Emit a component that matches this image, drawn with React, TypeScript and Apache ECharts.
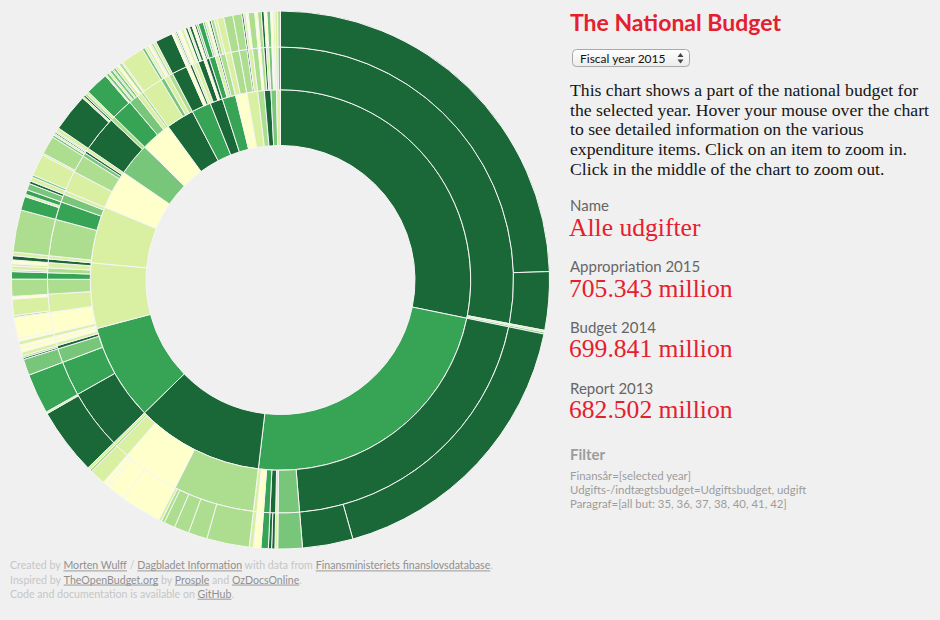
import React, { useEffect, useRef } from "react";
import * as echarts from "echarts";

// YlGn colour steps used by the rings
const PALETTE = ["#ffffcc", "#d9f0a3", "#addd8e", "#78c679", "#36a355", "#1a6837"];

// Level 1: budget paragraphs (inner ring), colour index per paragraph
const groupNames = [
  "§ 17 Beskæftigelsesministeriet", "§ 7 Finansministeriet", "§ 16 Sundhedsministeriet",
  "§ 15 Social- og Integrationsministeriet", "§ 19 Uddannelsesministeriet", "§ 20 Undervisningsministeriet",
  "§ 12 Forsvarsministeriet", "§ 28 Transportministeriet", "§ 9 Skatteministeriet",
  "§ 14 By, Bolig og Landdistrikter", "§ 11 Justitsministeriet", "§ 21 Kulturministeriet",
  "§ 6 Udenrigsministeriet", "§ 24 Fødevareministeriet", "§ 29 Klima og Energi",
  "§ 8 Erhvervs- og Vækstministeriet", "§ 23 Miljøministeriet", "§ 22 Kirkeministeriet",
  "§ 5 Statsministeriet",
];
const groupColor = [5, 4, 5, 4, 1, 1, 0, 3, 0, 5, 4, 5, 4, 0, 1, 2, 5, 3, 1];
// Level 2: number of main areas in each paragraph
const sectionsPerGroup = [3, 7, 5, 6, 9, 5, 5, 2, 4, 4, 4, 4, 4, 2, 3, 2, 3, 3, 2];
// Level 2 colour index per main area
const sectionColor = [
  5, 1, 3,
  5, 3, 1, 5, 4, 0, 1,
  2, 0, 1, 2, 1,
  5, 4, 3, 5, 1, 0,
  0, 1, 0, 1, 2, 4, 2, 1, 5,
  1, 2, 4, 3, 1,
  1, 2, 3, 5, 1,
  5, 2,
  4, 3, 1, 2,
  1, 3, 1, 2,
  5, 0, 5, 1,
  1, 5, 0, 5,
  4, 1, 5, 2,
  1, 2,
  2, 5, 1,
  2, 0,
  2, 5, 1,
  3, 0, 1,
  1, 3,
];
// Level 3: activity values per main area (share of the total, in degrees of arc)
const leafValues: number[][] = [
  [88.2, 12.6], [0.4], [0.4],
  [62.8, 10.9], [5.3], [0.6], [0.7, 0.7], [1.6], [1.6], [0.9],
  [9.2, 4.1, 3.2, 2.4, 0.7, 0.6], [8.8, 4.0, 0.7, 0.8], [3.4], [0.5], [0.6],
  [14.5, 0.4], [8.7], [3.5], [0.4, 0.4], [0.8], [0.8],
  [0.8], [0.8], [0.6, 4.6], [0.4, 3.5, 0.6], [3.7], [1.6], [0.4, 0.8], [0.5, 0.8], [0.9],
  [0.8], [9.1], [3.0, 0.5, 1.0], [1.4, 0.6], [0.9],
  [0.5, 4.7], [0.4, 4.0], [0.5, 0.4], [0.3, 0.3], [0.8],
  [8.2, 0.4, 0.4], [0.5, 0.5],
  [5.0, 0.3], [0.6, 0.4, 0.6, 0.3, 0.5], [0.6, 0.5], [0.6],
  [0.3, 5.0], [0.6, 0.4], [0.5, 0.4, 0.3], [0.5, 0.6],
  [3.8], [0.5, 0.4], [0.3, 0.3], [0.6],
  [0.6, 0.4], [0.5, 0.4, 0.6], [0.6], [0.4, 0.4],
  [1.1, 0.4], [0.5, 0.4], [0.4], [0.7, 0.6],
  [1.5], [2.0],
  [1.9], [0.4], [0.5, 0.5],
  [1.4], [0.6],
  [0.8], [0.6], [0.6],
  [0.8], [0.5], [0.4],
  [0.6], [0.6],
];
// Level 3 colour index per activity
const leafColors: number[][] = [
  [5, 5], [1], [3],
  [5, 5], [3], [1], [5, 5], [4], [0], [1],
  [2, 2, 2, 2, 2, 1], [0, 0, 0, 0], [1], [2], [1],
  [5, 1], [4], [3], [5, 2], [1], [0],
  [0], [1], [0, 0], [2, 1, 0], [2], [4], [2, 1], [1, 0], [5],
  [1], [2], [4, 1, 4], [3, 5], [1],
  [3, 1], [1, 2], [3, 1], [5, 2], [1],
  [5, 1, 5], [2, 1],
  [4, 1], [3, 1, 3, 2, 3], [1, 0], [2],
  [1, 1], [3, 1], [1, 0, 1], [2, 1],
  [5], [0, 1], [5, 1], [0],
  [1, 0], [5, 1, 5], [0], [5, 3],
  [4, 3], [1, 0], [5], [2, 1],
  [1], [2],
  [2], [5], [1, 0],
  [2], [0],
  [2], [5], [0],
  [3], [0], [1],
  [1], [2],
];

const bodyLines = [
  "This chart shows a part of the national budget for",
  "the selected year. Hover your mouse over the chart",
  "to see detailed information on the various",
  "expenditure items. Click on an item to zoom in.",
  "Click in the middle of the chart to zoom out.",
];
const infoLabels = ["Name", "Appropriation 2015", "Budget 2014", "Report 2013"];
const infoValues = ["Alle udgifter", "705.343 million", "699.841 million", "682.502 million"];
const filterLines = [
  "Finansår=[selected year]",
  "Udgifts-/indtægtsbudget=Udgiftsbudget, udgift",
  "Paragraf=[all but: 35, 36, 37, 38, 40, 41, 42]",
];
// footer: [text, isLink]
const footerLines: [string, boolean][][] = [
  [["Created by ", false], ["Morten Wulff", true], [" / ", false], ["Dagbladet Information", true], [" with data from ", false], ["Finansministeriets finanslovsdatabase", true], [".", false]],
  [["Inspired by ", false], ["TheOpenBudget.org", true], [" by ", false], ["Prosple", true], [" and ", false], ["OzDocsOnline", true], [".", false]],
  [["Code and documentation is available on ", false], ["GitHub", true], [".", false]],
];

function buildData() {
  let si = 0;
  return groupNames.map((name, g) => {
    const children: any[] = [];
    for (let k = 0; k < sectionsPerGroup[g]; k++, si++) {
      const idx = si;
      children.push({
        name: name + " / " + (k + 1),
        itemStyle: { color: PALETTE[sectionColor[idx]] },
        children: leafValues[idx].map((v, j) => ({
          name: name + " / " + (k + 1) + "." + (j + 1),
          value: v,
          itemStyle: { color: PALETTE[leafColors[idx][j]] },
        })),
      });
    }
    return { name, itemStyle: { color: PALETTE[groupColor[g]] }, children };
  });
}

const RED = "#e5202e";

function buildGraphics() {
  const els: any[] = [];
  const txt = (x: number, y: number, text: string, font: string, fill: string) =>
    els.push({ type: "text", x, y, silent: true, style: { text, font, fill, align: "left", verticalAlign: "middle" } });

  txt(570, 22.4, "The National Budget", "bold 23px Lato", RED);

  // select box
  els.push({
    type: "rect", shape: { x: 572.5, y: 49.5, width: 117, height: 17, r: 4 }, silent: true,
    style: {
      fill: new echarts.graphic.LinearGradient(0, 0, 0, 1, [
        { offset: 0, color: "#ffffff" }, { offset: 1, color: "#ececec" },
      ]),
      stroke: "#a9a9a9", lineWidth: 1,
    },
  });
  txt(580, 58, "Fiscal year 2015", "12px Lato", "#111");
  els.push({ type: "polygon", silent: true, shape: { points: [[677.5, 57], [683.5, 57], [680.5, 53]] }, style: { fill: "#444" } });
  els.push({ type: "polygon", silent: true, shape: { points: [[677.5, 59.5], [683.5, 59.5], [680.5, 63.5]] }, style: { fill: "#444" } });

  bodyLines.forEach((l, i) => txt(570, 89.7 + i * 19.8, l, "17.7px 'Liberation Serif'", "#151515"));

  const labelMid = [205, 265.7, 327, 388];
  const valueMid = [227, 288, 348.7, 409.7];
  infoLabels.forEach((l, i) => txt(570, labelMid[i], l, "15px Lato", "#666"));
  infoValues.forEach((v, i) => txt(569, valueMid[i], v, "25.6px 'Liberation Serif'", RED));

  txt(570, 454, "Filter", "bold 15px Lato", "#9c9c9c");
  filterLines.forEach((l, i) => txt(570, 475.2 + i * 14.35, l, "11.4px Lato", "#9c9c9c"));

  // footer with underlined links
  const ctx = document.createElement("canvas").getContext("2d")!;
  const font = "10.6px Lato";
  ctx.font = font;
  footerLines.forEach((parts, i) => {
    const mid = 565.4 + i * 14.15;
    let x = 10;
    parts.forEach(([t, link]) => {
      const w = ctx.measureText(t).width;
      const col = link ? "#8f8f8f" : "#c6c6c6";
      txt(x, mid, t, font, col);
      if (link) {
        els.push({ type: "line", silent: true, shape: { x1: x, y1: mid + 5.5, x2: x + w, y2: mid + 5.5 }, style: { stroke: "#9a9a9a", lineWidth: 1 } });
      }
      x += w;
    });
  });
  return els;
}

export default function App() {
  const ref = useRef<HTMLDivElement>(null);
  useEffect(() => {
    document.body.style.margin = "0";
    document.body.style.background = "#f0f0f0";
    const chart = echarts.init(ref.current!, undefined, { renderer: "svg" });
    chart.setOption({
      animation: false,
      backgroundColor: "#f0f0f0",
      tooltip: { show: false },
      graphic: buildGraphics(),
      series: [
        {
          type: "sunburst",
          center: [280.5, 280],
          radius: [0, 269],
          sort: null,
          nodeClick: false,
          startAngle: 90,
          clockwise: true,
          label: { show: false },
          emphasis: { disabled: true },
          itemStyle: { borderColor: "#f6f6f6", borderWidth: 1 },
          levels: [
            {},
            { r0: 134.5, r: 190.2, label: { show: false } },
            { r0: 190.2, r: 233, label: { show: false } },
            { r0: 233, r: 269, label: { show: false } },
          ],
          data: buildData(),
        },
      ],
    });
    return () => chart.dispose();
  }, []);
  return <div ref={ref} style={{ position: "fixed", left: 0, top: 0, width: 940, height: 620, background: "#f0f0f0" }} />;
}
